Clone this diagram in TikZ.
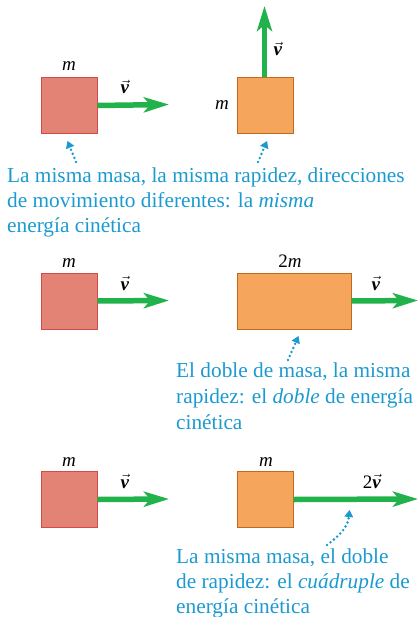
\documentclass[tikz,border=0pt]{standalone}
\usepackage{fontspec}
\setmainfont{Liberation Serif}
\usetikzlibrary{arrows.meta}
\definecolor{redfill}{HTML}{E38376}
\definecolor{redline}{HTML}{D14B4B}
\definecolor{orfill}{HTML}{F5A55C}
\definecolor{orline}{HTML}{C06A1E}
\definecolor{vgreen}{HTML}{22B24C}
\definecolor{txtblue}{HTML}{1B9AD0}
\newcommand{\vv}{$\vec{\textbf{\textit{v}}}$}
\tikzset{
  redbox/.style={draw=redline, fill=redfill, line width=1pt, inner sep=0pt, minimum width=56pt, minimum height=56pt, anchor=north west},
  orbox/.style={draw=orline, fill=orfill, line width=1pt, inner sep=0pt, minimum height=56pt, anchor=north west},
  vel/.style={draw=vgreen, line width=5.5pt, -{Stealth[length=25pt, width=15pt, inset=6pt]}},
  lbl/.style={font=\fontsize{19}{22}\selectfont, inner sep=0pt},
  note/.style={text=txtblue, font=\fontsize{21.3}{25}\selectfont, inner sep=0pt, anchor=base west},
  pointer/.style={draw=txtblue, line width=2.8pt, dash pattern=on 0pt off 4.4pt, line cap=round, -{Triangle[length=7pt, width=9pt, line cap=butt, line width=0pt]}}
}
\begin{document}
\begin{tikzpicture}[x=1pt, y=-1pt]
\useasboundingbox (0,0) rectangle (417,617);
% Row 1
\node[redbox] (r1) at (40.5,77) {};
\node[orbox, minimum width=56pt] (o1) at (236.5,77) {};
\node[lbl, anchor=base] (m1) at (69,71) {\itshape m};
\node[lbl, anchor=base] (m2) at (222,110) {\itshape m};
\coordinate (a1end) at (169,104.5);
\draw[vel] (r1.east) -- (a1end);
\node[lbl, anchor=base] (v1) at (125,94) {\vv};
\coordinate (a2end) at (264.5,6);
\draw[vel] (264.5,77) -- (a2end);
\node[lbl, anchor=base] (v2) at (278,56) {\vv};
\node[note] (t1a) at (7,183) {La misma masa, la misma rapidez, direcciones};
\node[note] (t1b) at (7,208) {de movimiento diferentes: la \textit{misma}};
\node[note] (t1c) at (7,233) {energía cinética};
\coordinate (p1s) at (76,162);
\coordinate (p1e) at (67.5,141);
\coordinate (p2s) at (258,162);
\coordinate (p2e) at (267,141);
\draw[pointer] (p1s) -- (p1e);
\draw[pointer] (p2s) -- (p2e);
% Row 2
\node[redbox] (r2) at (40.5,272.5) {};
\node[orbox, minimum width=114pt] (o2) at (236.5,272.5) {};
\node[lbl, anchor=base] (m3) at (69,267) {\itshape m};
\node[lbl, anchor=base] (m4) at (290,267) {2\itshape m};
\coordinate (a3end) at (169,300.5);
\draw[vel] (r2.east) -- (a3end);
\node[lbl, anchor=base] (v3) at (125,290) {\vv};
\coordinate (a4end) at (418,300.5);
\draw[vel] (o2.east) -- (a4end);
\node[lbl, anchor=base] (v4) at (376,290) {\vv};
\node[note] (t2a) at (176,377) {El doble de masa, la misma};
\node[note] (t2b) at (176,403) {rapidez: el \textit{doble} de energía};
\node[note] (t2c) at (176,429) {cinética};
\coordinate (p3s) at (288,360);
\coordinate (p3e) at (298.5,336);
\draw[pointer] (p3s) -- (p3e);
% Row 3
\node[redbox] (r3) at (40.5,471) {};
\node[orbox, minimum width=56pt] (o3) at (236.5,471) {};
\node[lbl, anchor=base] (m5) at (69,466) {\itshape m};
\node[lbl, anchor=base] (m6) at (266,466) {\itshape m};
\coordinate (a5end) at (169,499);
\draw[vel] (r3.east) -- (a5end);
\node[lbl, anchor=base] (v5) at (125,488) {\vv};
\coordinate (a6end) at (418,499);
\draw[vel] (o3.east) -- (a6end);
\node[lbl, anchor=base] (v6) at (372,488) {2\vv};
\node[note] (t3a) at (176,563) {La misma masa, el doble};
\node[note] (t3b) at (176,588) {de rapidez: el \textit{cuádruple} de};
\node[note] (t3c) at (176,613) {energía cinética};
\coordinate (p4s) at (327,545);
\coordinate (p4e) at (349.5,510);
\draw[pointer] (p4s) .. controls (343,533) and (348,525) .. (p4e);
\end{tikzpicture}
\end{document}
